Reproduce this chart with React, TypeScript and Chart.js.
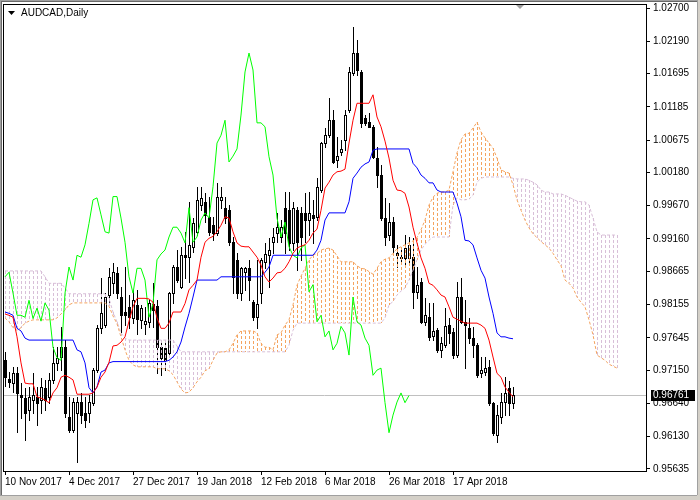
import React, { useEffect, useRef } from 'react';
import { Chart, registerables } from 'chart.js';

Chart.register(...registerables);

const TITLE = 'AUDCAD,Daily';
const dateLabels = ['10 Nov 2017', '4 Dec 2017', '27 Dec 2017', '19 Jan 2018', '12 Feb 2018', '6 Mar 2018', '26 Mar 2018', '17 Apr 2018'];
const dateTickIndex = [0, 16, 32, 48, 64, 80, 96, 112];
const yTickValues = [1.027, 1.0219, 1.01695, 1.01185, 1.00675, 1.0018, 0.9967, 0.9916, 0.98665, 0.98155, 0.97645, 0.9715, 0.9664, 0.9613, 0.95635];
const lastPrice = 0.96761;
const CHIKOU_SHIFT = 26;
const Y_MIN = 0.95603;
const Y_MAX = 1.02762;
const X_MIN = -0.5;
const X_MAX = 160.25;

const opens = [
  0.9730, 0.9702, 0.9695, 0.9711, 0.9677, 0.9672, 0.9654, 0.9669, 0.9674, 0.9669,
  0.9688, 0.9674, 0.9700, 0.9726, 0.9735, 0.9750, 0.9643, 0.9623, 0.9649, 0.9666,
  0.9649, 0.9649, 0.9665, 0.9715, 0.9779, 0.9784, 0.9830, 0.9848, 0.9864, 0.9827,
  0.9804, 0.9811, 0.9795, 0.9815, 0.9792, 0.9785, 0.9789, 0.9817, 0.9814, 0.9750,
  0.9749, 0.9741, 0.9833, 0.9873, 0.9842, 0.9891, 0.9888, 0.9904, 0.9927, 0.9968,
  0.9973, 0.9950, 0.9937, 0.9925, 0.9976, 0.9964, 0.9960, 0.9911, 0.9884, 0.9833,
  0.9865, 0.9871, 0.9819, 0.9796, 0.9833, 0.9880, 0.9891, 0.9911, 0.9925, 0.9919,
  0.9964, 0.9960, 0.9910, 0.9960, 0.9956, 0.9956, 0.9945, 0.9953, 0.9950, 0.9991,
  1.0063, 1.0075, 1.0098, 1.0037, 1.0049, 1.0068, 1.0114, 1.0170, 1.0201, 1.0172,
  1.0101, 1.0096, 1.0088, 1.0040, 1.0014, 0.9948, 0.9922, 0.9942, 0.9895, 0.9888,
  0.9887, 0.9887, 0.9888, 0.9835, 0.9850, 0.9789, 0.9796, 0.9767, 0.9776, 0.9746,
  0.9753, 0.9784, 0.9774, 0.9738, 0.9827, 0.9789, 0.9779, 0.9764, 0.9753, 0.9710,
  0.9712, 0.9720, 0.9665, 0.9616, 0.9643, 0.9666, 0.9688, 0.9665,
];

const highs = [
  0.9743, 0.9712, 0.9720, 0.9720, 0.9695, 0.9688, 0.9689, 0.9711, 0.9689, 0.9703,
  0.9700, 0.9711, 0.9750, 0.9750, 0.9781, 0.9761, 0.9674, 0.9672, 0.9674, 0.9680,
  0.9674, 0.9677, 0.9718, 0.9784, 0.9856, 0.9833, 0.9871, 0.9879, 0.9873, 0.9842,
  0.9873, 0.9830, 0.9838, 0.9838, 0.9815, 0.9811, 0.9822, 0.9848, 0.9822, 0.9761,
  0.9761, 0.9835, 0.9876, 0.9899, 0.9904, 0.9927, 0.9972, 0.9948, 0.9996, 0.9996,
  0.9987, 0.9981, 0.9950, 1.0002, 0.9996, 0.9981, 0.9968, 0.9919, 0.9895, 0.9873,
  0.9873, 0.9884, 0.9822, 0.9884, 0.9887, 0.9910, 0.9918, 0.9933, 0.9956, 0.9945,
  0.9988, 0.9988, 0.9973, 0.9965, 0.9965, 0.9987, 0.9988, 0.9976, 1.0009, 1.0065,
  1.0086, 1.0132, 1.0114, 1.0072, 1.0068, 1.0114, 1.0180, 1.0241, 1.0221, 1.0175,
  1.0106, 1.0109, 1.0091, 1.0057, 1.0029, 0.9979, 0.9971, 0.9950, 0.9907, 0.9899,
  0.9922, 0.9919, 0.9917, 0.9873, 0.9856, 0.9826, 0.9818, 0.9818, 0.9779, 0.9766,
  0.9810, 0.9795, 0.9779, 0.9850, 0.9856, 0.9822, 0.9795, 0.9781, 0.9756, 0.9735,
  0.9735, 0.9730, 0.9666, 0.9662, 0.9680, 0.9704, 0.9698, 0.9689,
];

const lows = [
  0.9690, 0.9689, 0.9681, 0.9620, 0.9642, 0.9608, 0.9639, 0.9649, 0.9631, 0.9649,
  0.9654, 0.9665, 0.9695, 0.9715, 0.9715, 0.9643, 0.9620, 0.9620, 0.9574, 0.9634,
  0.9628, 0.9636, 0.9661, 0.9712, 0.9772, 0.9781, 0.9818, 0.9833, 0.9826, 0.9769,
  0.9784, 0.9779, 0.9787, 0.9771, 0.9779, 0.9771, 0.9781, 0.9781, 0.9711, 0.9707,
  0.9715, 0.9738, 0.9818, 0.9850, 0.9841, 0.9856, 0.9850, 0.9896, 0.9922, 0.9960,
  0.9942, 0.9922, 0.9914, 0.9922, 0.9964, 0.9940, 0.9907, 0.9833, 0.9826, 0.9822,
  0.9838, 0.9822, 0.9792, 0.9779, 0.9818, 0.9872, 0.9842, 0.9895, 0.9911, 0.9911,
  0.9895, 0.9899, 0.9899, 0.9868, 0.9884, 0.9911, 0.9922, 0.9910, 0.9945, 0.9988,
  1.0057, 1.0072, 1.0032, 1.0026, 1.0045, 1.0052, 1.0110, 1.0167, 1.0167, 1.0088,
  1.0091, 1.0087, 1.0040, 0.9996, 0.9945, 0.9907, 0.9914, 0.9896, 0.9873, 0.9880,
  0.9876, 0.9876, 0.9810, 0.9826, 0.9787, 0.9784, 0.9761, 0.9761, 0.9743, 0.9735,
  0.9750, 0.9756, 0.9733, 0.9735, 0.9787, 0.9718, 0.9756, 0.9735, 0.9704, 0.9704,
  0.9707, 0.9662, 0.9616, 0.9605, 0.9634, 0.9646, 0.9646, 0.9657,
];

const closes = [
  0.9704, 0.9697, 0.9711, 0.9680, 0.9674, 0.9649, 0.9674, 0.9677, 0.9665, 0.9689,
  0.9669, 0.9700, 0.9726, 0.9734, 0.9750, 0.9649, 0.9623, 0.9666, 0.9666, 0.9646,
  0.9638, 0.9666, 0.9715, 0.9779, 0.9802, 0.9827, 0.9858, 0.9865, 0.9833, 0.9799,
  0.9799, 0.9796, 0.9822, 0.9794, 0.9810, 0.9790, 0.9818, 0.9807, 0.9750, 0.9734,
  0.9730, 0.9833, 0.9873, 0.9853, 0.9891, 0.9888, 0.9907, 0.9940, 0.9976, 0.9979,
  0.9953, 0.9927, 0.9925, 0.9981, 0.9981, 0.9948, 0.9911, 0.9858, 0.9833, 0.9871,
  0.9871, 0.9853, 0.9796, 0.9817, 0.9884, 0.9893, 0.9899, 0.9919, 0.9934, 0.9934,
  0.9925, 0.9910, 0.9964, 0.9911, 0.9919, 0.9945, 0.9956, 0.9948, 0.9996, 1.0063,
  1.0075, 1.0098, 1.0034, 1.0043, 1.0054, 1.0106, 1.0172, 1.0201, 1.0175, 1.0094,
  1.0094, 1.0088, 1.0042, 1.0014, 0.9948, 0.9919, 0.9942, 0.9904, 0.9891, 0.9887,
  0.9902, 0.9907, 0.9835, 0.9846, 0.9789, 0.9799, 0.9766, 0.9775, 0.9746, 0.9756,
  0.9782, 0.9772, 0.9738, 0.9827, 0.9789, 0.9784, 0.9764, 0.9753, 0.9707, 0.9715,
  0.9718, 0.9665, 0.9619, 0.9646, 0.9666, 0.9680, 0.9665, 0.96761,
];

const tenkan = [
  0.9801, 0.9799, 0.9796, 0.9766, 0.9726, 0.9695, 0.9694, 0.9694, 0.9674, 0.9672,
  0.9669, 0.9665, 0.9680, 0.9688, 0.9704, 0.9707, 0.9704, 0.9700, 0.9678, 0.9678,
  0.9678, 0.9678, 0.9680, 0.9689, 0.9704, 0.9712, 0.9727, 0.9752, 0.9753, 0.9758,
  0.9766, 0.9790, 0.9812, 0.9825, 0.9825, 0.9825, 0.9824, 0.9819, 0.9795, 0.9779,
  0.9779, 0.9787, 0.9804, 0.9804, 0.9804, 0.9817, 0.9838, 0.9845, 0.9853, 0.9888,
  0.9911, 0.9917, 0.9920, 0.9927, 0.9937, 0.9950, 0.9948, 0.9927, 0.9910, 0.9905,
  0.9904, 0.9904, 0.9896, 0.9888, 0.9876, 0.9858, 0.9850, 0.9856, 0.9864, 0.9865,
  0.9871, 0.9881, 0.9894, 0.9902, 0.9905, 0.9907, 0.9914, 0.9925, 0.9931, 0.9960,
  0.9994, 1.0003, 1.0014, 1.0019, 1.0020, 1.0023, 1.0063, 1.0098, 1.0124, 1.0124,
  1.0124, 1.0124, 1.0137, 1.0103, 1.0088, 1.0066, 1.0040, 1.0006, 0.9991, 0.9990,
  0.9986, 0.9965, 0.9934, 0.9910, 0.9887, 0.9871, 0.9848, 0.9845, 0.9838, 0.9830,
  0.9827, 0.9812, 0.9796, 0.9793, 0.9790, 0.9787, 0.9787, 0.9787, 0.9787, 0.9784,
  0.9779, 0.9761, 0.9735, 0.9710, 0.9704, 0.9689, 0.9681, 0.9674,
];

const kijun = [
  0.9804, 0.9802, 0.9799, 0.9779, 0.9775, 0.9764, 0.9761, 0.9761, 0.9761, 0.9761,
  0.9761, 0.9761, 0.9761, 0.9761, 0.9761, 0.9761, 0.9761, 0.9761, 0.9746, 0.9743,
  0.9726, 0.9688, 0.9680, 0.9689, 0.9712, 0.9715, 0.9726, 0.9728, 0.9728, 0.9728,
  0.9728, 0.9728, 0.9728, 0.9728, 0.9728, 0.9728, 0.9728, 0.9728, 0.9728, 0.9728,
  0.9728, 0.9730, 0.9735, 0.9743, 0.9758, 0.9781, 0.9802, 0.9827, 0.9853, 0.9853,
  0.9853, 0.9853, 0.9853, 0.9853, 0.9858, 0.9858, 0.9858, 0.9858, 0.9858, 0.9858,
  0.9858, 0.9858, 0.9858, 0.9858, 0.9858, 0.9865, 0.9873, 0.9891, 0.9891, 0.9891,
  0.9891, 0.9891, 0.9891, 0.9891, 0.9891, 0.9891, 0.9891, 0.9891, 0.9899, 0.9914,
  0.9945, 0.9956, 0.9956, 0.9956, 0.9956, 0.9956, 0.9973, 1.0009, 1.0017, 1.0026,
  1.0031, 1.0034, 1.0052, 1.0054, 1.0054, 1.0054, 1.0054, 1.0054, 1.0054, 1.0054,
  1.0054, 1.0054, 1.0032, 1.0025, 1.0014, 1.0009, 1.0002, 1.0002, 0.9991, 0.9988,
  0.9988, 0.9988, 0.9988, 0.9971, 0.9950, 0.9914, 0.9913, 0.9907, 0.9887, 0.9868,
  0.9856, 0.9827, 0.9802, 0.9772, 0.9766, 0.9766, 0.9764, 0.9763,
];

const spanA = [
  0.9795, 0.9789, 0.9780, 0.9776, 0.9780, 0.9787, 0.9790, 0.9792, 0.9792, 0.9792,
  0.9792, 0.9792, 0.9792, 0.9795, 0.9801, 0.9807, 0.9815, 0.9818, 0.9818, 0.9818,
  0.9818, 0.9818, 0.9818, 0.9818, 0.9818, 0.9818, 0.9813, 0.9798, 0.9786, 0.9766,
  0.9746, 0.9730, 0.9723, 0.9720, 0.9720, 0.9720, 0.9720, 0.9720, 0.9717, 0.9717,
  0.9717, 0.9714, 0.9708, 0.9697, 0.9686, 0.9680, 0.9681, 0.9688, 0.9697, 0.9704,
  0.9714, 0.9717, 0.9730, 0.9741, 0.9743, 0.9743, 0.9746, 0.9756, 0.9769, 0.9775,
  0.9775, 0.9775, 0.9775, 0.9772, 0.9756, 0.9750, 0.9750, 0.9746, 0.9769, 0.9772,
  0.9784, 0.9792, 0.9815, 0.9845, 0.9859, 0.9871, 0.9884, 0.9891, 0.9894, 0.9899,
  0.9901, 0.9902, 0.9899, 0.9890, 0.9881, 0.9881, 0.9881, 0.9881, 0.9875, 0.9871,
  0.9870, 0.9866, 0.9862, 0.9871, 0.9881, 0.9885, 0.9887, 0.9894, 0.9901, 0.9904,
  0.9907, 0.9910, 0.9913, 0.9918, 0.9930, 0.9945, 0.9968, 0.9980, 0.9986, 0.9988,
  0.9988, 0.9991, 1.0019, 1.0048, 1.0068, 1.0077, 1.0078, 1.0086, 1.0095, 1.0080,
  1.0071, 1.0063, 1.0055, 1.0040, 1.0022, 1.0019, 1.0017, 0.9999, 0.9976, 0.9960,
  0.9945, 0.9933, 0.9924, 0.9918, 0.9912, 0.9907, 0.9902, 0.9894, 0.9884, 0.9875,
  0.9853, 0.9848, 0.9841, 0.9827, 0.9819, 0.9812, 0.9792, 0.9769, 0.9738, 0.9734,
  0.9730, 0.9724, 0.9721, 0.9718,
];

const spanB = [
  0.9867, 0.9867, 0.9867, 0.9867, 0.9867, 0.9867, 0.9867, 0.9867, 0.9867, 0.9867,
  0.9858, 0.9848, 0.9848, 0.9848, 0.9848, 0.9841, 0.9832, 0.9832, 0.9832, 0.9832,
  0.9832, 0.9832, 0.9832, 0.9832, 0.9832, 0.9832, 0.9825, 0.9804, 0.9789, 0.9772,
  0.9764, 0.9761, 0.9761, 0.9761, 0.9761, 0.9761, 0.9761, 0.9761, 0.9761, 0.9761,
  0.9761, 0.9761, 0.9761, 0.9752, 0.9743, 0.9743, 0.9743, 0.9743, 0.9743, 0.9743,
  0.9743, 0.9743, 0.9743, 0.9743, 0.9743, 0.9743, 0.9743, 0.9743, 0.9743, 0.9743,
  0.9743, 0.9743, 0.9743, 0.9743, 0.9743, 0.9743, 0.9743, 0.9743, 0.9743, 0.9743,
  0.9743, 0.9753, 0.9776, 0.9787, 0.9787, 0.9787, 0.9787, 0.9787, 0.9787, 0.9787,
  0.9787, 0.9787, 0.9787, 0.9787, 0.9787, 0.9787, 0.9787, 0.9787, 0.9787, 0.9787,
  0.9787, 0.9787, 0.9787, 0.9787, 0.9787, 0.9795, 0.9815, 0.9820, 0.9830, 0.9836,
  0.9841, 0.9853, 0.9868, 0.9884, 0.9899, 0.9908, 0.9914, 0.9919, 0.9919, 0.9919,
  0.9919, 0.9919, 0.9968, 0.9979, 0.9976, 0.9976, 0.9977, 0.9983, 1.0003, 1.0009,
  1.0011, 1.0011, 1.0011, 1.0011, 1.0011, 1.0011, 1.0011, 1.0009, 1.0008, 1.0008,
  1.0008, 1.0006, 1.0003, 0.9999, 0.9991, 0.9988, 0.9988, 0.9985, 0.9985, 0.9985,
  0.9983, 0.9980, 0.9977, 0.9974, 0.9973, 0.9973, 0.9968, 0.9948, 0.9927, 0.9922,
  0.9922, 0.9922, 0.9922, 0.9922,
];

const FONT = "'Liberation Sans', Arial, sans-serif";
const COLOR_SPAN_A = '#F4A460';
const COLOR_SPAN_B = '#D8BFD8';

const mt4Plugin = {
  id: 'mt4Plugin',
  beforeDatasetsDraw(chart: any) {
    const { ctx, chartArea: a, scales } = chart;
    const xs = scales.x;
    const ys = scales.y;
    ctx.save();
    ctx.beginPath();
    ctx.rect(a.left, a.top, a.right - a.left, a.bottom - a.top);
    ctx.clip();

    // last price line
    const py = Math.round(ys.getPixelForValue(lastPrice)) + 0.5;
    ctx.strokeStyle = '#C0C0C0';
    ctx.lineWidth = 1;
    ctx.beginPath();
    ctx.moveTo(a.left, py);
    ctx.lineTo(a.right, py);
    ctx.stroke();

    // candles
    for (let i = 0; i < closes.length; i++) {
      const cx = Math.round(xs.getPixelForValue(i));
      const yH = Math.round(ys.getPixelForValue(highs[i]));
      const yL = Math.round(ys.getPixelForValue(lows[i]));
      const yO = Math.round(ys.getPixelForValue(opens[i]));
      const yC = Math.round(ys.getPixelForValue(closes[i]));
      ctx.fillStyle = '#000';
      ctx.fillRect(cx, yH, 1, yL - yH + 1);
      const top = Math.min(yO, yC);
      const bot = Math.max(yO, yC);
      const h = bot - top + 1;
      ctx.fillRect(cx - 1, top, 3, h);
      if (closes[i] > opens[i] && h > 2) {
        ctx.fillStyle = '#fff';
        ctx.fillRect(cx, top + 1, 1, h - 2);
      }
    }

    // kumo hatch
    ctx.setLineDash([3, 2]);
    for (let i = 0; i < spanA.length; i++) {
      const cx = Math.round(xs.getPixelForValue(i)) + 0.5;
      const ya = Math.round(ys.getPixelForValue(spanA[i]));
      const yb = Math.round(ys.getPixelForValue(spanB[i]));
      ctx.strokeStyle = spanA[i] >= spanB[i] ? COLOR_SPAN_A : COLOR_SPAN_B;
      ctx.beginPath();
      ctx.moveTo(cx, Math.min(ya, yb));
      ctx.lineTo(cx, Math.max(ya, yb));
      ctx.stroke();
    }
    ctx.restore();
  },
  afterDraw(chart: any) {
    const { ctx, chartArea: a, scales } = chart;
    const xs = scales.x;
    const ys = scales.y;
    const W = chart.width;
    const H = chart.height;
    ctx.save();

    // plot border
    ctx.strokeStyle = '#000';
    ctx.lineWidth = 1;
    ctx.strokeRect(a.left + 0.5, a.top + 0.5, a.right - a.left, a.bottom - a.top);

    // shift marker
    const sx = Math.round(xs.getPixelForValue(closes.length + 0.75));
    ctx.fillStyle = '#A0A0A0';
    ctx.beginPath();
    ctx.moveTo(sx - 4, a.top + 1);
    ctx.lineTo(sx + 4, a.top + 1);
    ctx.lineTo(sx, a.top + 5);
    ctx.closePath();
    ctx.fill();

    // title
    ctx.fillStyle = '#000';
    ctx.beginPath();
    ctx.moveTo(a.left + 5, a.top + 7);
    ctx.lineTo(a.left + 12, a.top + 7);
    ctx.lineTo(a.left + 8.5, a.top + 11);
    ctx.closePath();
    ctx.fill();
    ctx.font = `10px ${FONT}`;
    ctx.textBaseline = 'middle';
    ctx.textAlign = 'left';
    ctx.fillText(TITLE, a.left + 18, a.top + 9);

    // last price label
    const py = Math.round(ys.getPixelForValue(lastPrice));
    ctx.fillStyle = '#000';
    ctx.fillRect(a.right + 5, py - 5, 44, 11);
    ctx.fillStyle = '#fff';
    ctx.fillText(lastPrice.toFixed(5), a.right + 7, py + 0.5);

    // window frame
    ctx.fillStyle = '#A0A0A0';
    ctx.fillRect(0, 0, W, 1);
    ctx.fillRect(0, 0, 1, H);
    ctx.fillStyle = '#696969';
    ctx.fillRect(1, 1, W - 2, 1);
    ctx.fillRect(1, 1, 1, H - 2);
    ctx.fillStyle = '#D4D0C8';
    ctx.fillRect(W - 3, 0, 3, H);
    ctx.fillRect(0, H - 5, W, 5);
    ctx.fillStyle = '#A0A0A0';
    ctx.fillRect(W - 3, 0, 1, H - 5);
    ctx.fillRect(0, H - 5, W - 3, 1);
    ctx.restore();
  },
};

export default function App() {
  const ref = useRef<HTMLCanvasElement | null>(null);

  useEffect(() => {
    if (!ref.current) return;
    const lineDs = (label: string, values: number[], color: string, offset: number, dash: number[] = []) => ({
      type: 'line',
      label,
      data: values.map((v, i) => ({ x: i + offset, y: v })),
      borderColor: color,
      borderWidth: 1,
      borderDash: dash,
      pointRadius: 0,
      tension: 0,
      fill: false,
    });
    const chikou = closes.slice(CHIKOU_SHIFT);
    const chart = new Chart(ref.current, {
      type: 'line',
      data: {
        datasets: [
          lineDs('Tenkan-sen', tenkan, '#FF0000', 0),
          lineDs('Kijun-sen', kijun, '#0000FF', 0),
          lineDs('Chikou Span', chikou, '#00FF00', 0),
          lineDs('Senkou Span A', spanA, COLOR_SPAN_A, 0, [3, 2]),
          lineDs('Senkou Span B', spanB, COLOR_SPAN_B, 0, [3, 2]),
        ] as any,
      },
      options: {
        animation: false,
        responsive: false,
        devicePixelRatio: 1,
        events: [],
        layout: { padding: { left: 3, top: 4, right: 0, bottom: 0 } },
        plugins: { legend: { display: false }, tooltip: { enabled: false } },
        scales: {
          x: {
            type: 'linear',
            min: X_MIN,
            max: X_MAX,
            bounds: 'data',
            afterBuildTicks: (axis: any) => {
              axis.ticks = dateTickIndex.map((v) => ({ value: v }));
            },
            afterFit: (axis: any) => {
              axis.height = 29;
              axis.paddingLeft = 0;
              axis.paddingRight = 0;
            },
            ticks: {
              callback: (v: any) => dateLabels[dateTickIndex.indexOf(Number(v))],
              align: 'start',
              autoSkip: false,
              maxRotation: 0,
              minRotation: 0,
              padding: 1,
              color: '#000',
              font: { family: FONT, size: 10 },
            },
            grid: { drawOnChartArea: false, drawTicks: true, tickLength: 4, color: '#000' },
            border: { display: false },
          },
          y: {
            type: 'linear',
            position: 'right',
            min: Y_MIN,
            max: Y_MAX,
            bounds: 'data',
            afterBuildTicks: (axis: any) => {
              axis.ticks = yTickValues.map((v) => ({ value: v }));
            },
            afterFit: (axis: any) => {
              axis.width = 54;
              axis.paddingTop = 0;
              axis.paddingBottom = 0;
            },
            ticks: {
              callback: (v: any) => Number(v).toFixed(5),
              autoSkip: false,
              padding: 3,
              color: '#000',
              font: { family: FONT, size: 10 },
            },
            grid: { drawOnChartArea: false, drawTicks: true, tickLength: 4, color: '#000' },
            border: { display: false },
          },
        },
      } as any,
      plugins: [mt4Plugin],
    });
    return () => chart.destroy();
  }, []);

  return (
    <div style={{ position: 'fixed', left: 0, top: 0, width: 700, height: 500, background: '#fff' }}>
      <canvas ref={ref} width={700} height={500} style={{ display: 'block', width: 700, height: 500 }} />
    </div>
  );
}
